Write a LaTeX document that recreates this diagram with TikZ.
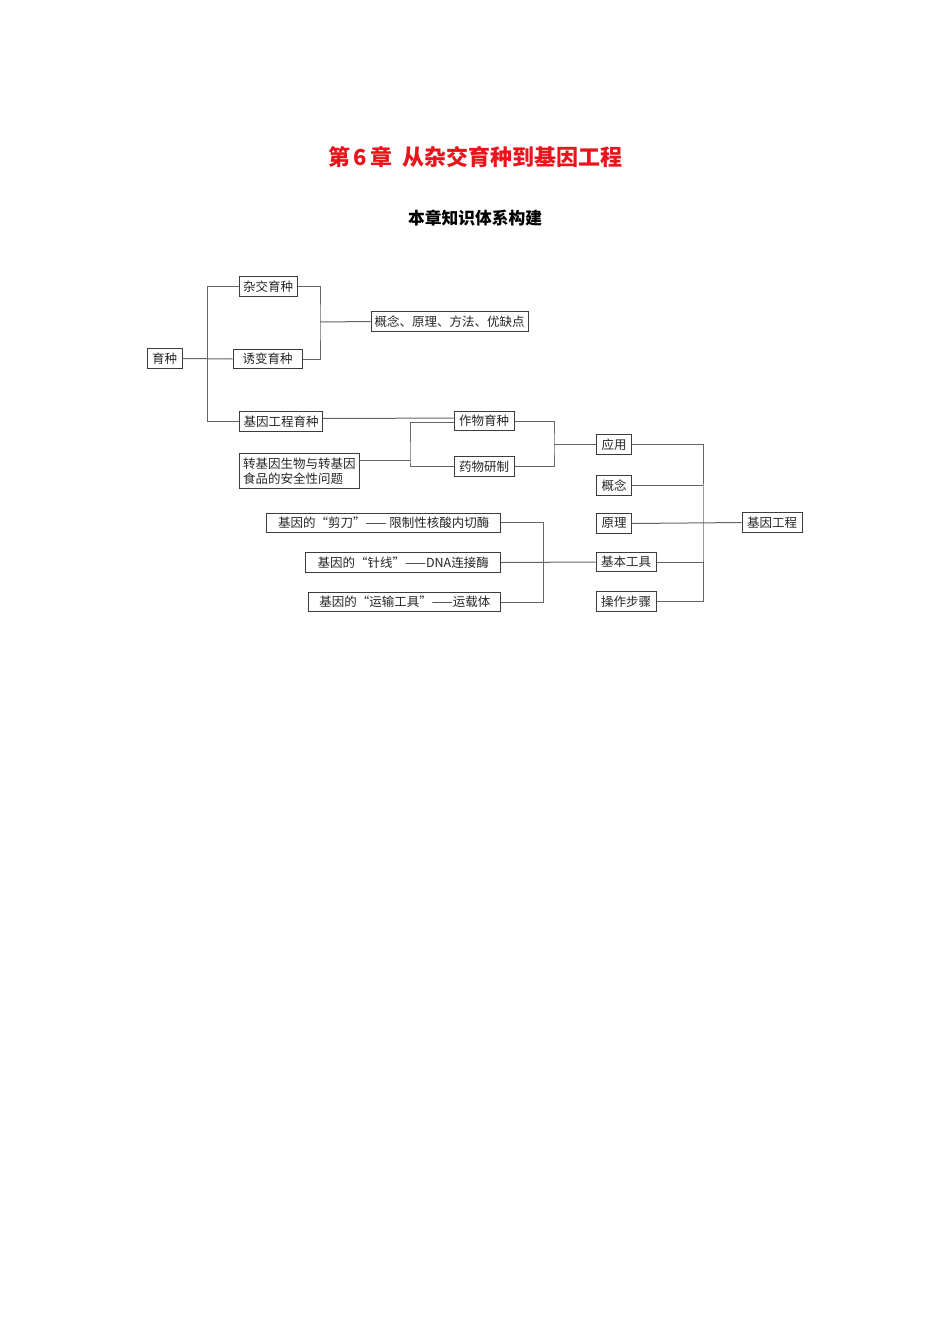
\documentclass[tikz,border=0pt]{standalone}
\usepackage{fontspec}
\setmainfont{Noto Sans CJK SC}
\definecolor{titlered}{RGB}{232,22,28}
\definecolor{boxline}{RGB}{60,60,60}
\definecolor{conline}{RGB}{100,100,100}
\tikzset{
  box/.style={draw=boxline, line width=1pt, inner sep=0pt, minimum height=19.5pt,
    font=\fontsize{12.5}{15.5}\selectfont, text=black!85},
  con/.style={draw=conline, line width=1pt},
}
\begin{document}
\begin{tikzpicture}[x=1pt,y=-1pt]
\path[use as bounding box, fill=white] (0,0) rectangle (950,1344);
% titles
\node[font=\fontsize{22}{26}\selectfont\bfseries, text=titlered] (title) at (475.5,157) {第\,6\,章\ \ 从杂交育种到基因工程};
\node[font=\fontsize{16.75}{20}\selectfont\bfseries] (sub) at (475,218) {本章知识体系构建};
% boxes
\node[box, minimum width=35pt] (yz) at (164.5,358.5) {育种};
\node[box, minimum width=58pt] (zj) at (268,286.5) {杂交育种};
\node[box, minimum width=69pt] (yb) at (267.5,359) {诱变育种};
\node[box, minimum width=157pt] (gn) at (449.5,321.5) {概念、原理、方法、优缺点};
\node[box, minimum width=83pt] (jy) at (281,421.3) {基因工程育种};
\node[box, minimum width=60pt] (zw) at (484,421.2) {作物育种};
\node[box, minimum width=120pt, minimum height=34.5pt, align=left] (zjy) at (299.3,471.2) {转基因生物与转基因\\食品的安全性问题};
\node[box, minimum width=60pt] (yw) at (484,466.3) {药物研制};
\node[box, minimum width=35pt] (yy) at (614,444.5) {应用};
\node[box, minimum width=35pt] (gn2) at (614,485.5) {概念};
\node[box, minimum width=35pt] (yl) at (614,523.5) {原理};
\node[box, minimum width=60pt] (jbgj) at (626,562) {基本工具};
\node[box, minimum width=60pt] (czbz) at (626,601.5) {操作步骤};
\node[box, minimum width=60pt] (jygc) at (772,522.5) {基因工程};
\node[box, minimum width=234pt] (jd) at (383.7,522.8) {基因的“剪刀”—— 限制性核酸内切酶};
\node[box, minimum width=195pt] (zx) at (403.2,562.5) {基因的“针线”——DNA连接酶};
\node[box, minimum width=192pt] (ys) at (404.9,602) {基因的“运输工具”——运载体};
% junction coordinates
\coordinate (b1) at (320,322);
\coordinate (b2) at (410,460.7);
\coordinate (b3) at (554,444.5);
\coordinate (b4) at (703,522.5);
\coordinate (b5) at (543.5,562.3);
% connectors
\draw[con] (yz.east) -- (yb.west);
\draw[con] (zj.west) -- ++(-31,0) |- (jy.west);
\draw[con] (zj.east) -| (b1) |- (yb.east);
\draw[con] (b1) -- (gn.west);
\draw[con] ([yshift=3pt]jy.east) -- ([yshift=3pt]zw.west);
\draw[con] ([yshift=-1.5pt]zw.west) -| (b2) |- (yw.west);
\draw[con] (b2) -- (zjy.east |- b2);
\draw[con] (zw.east) -| (b3) |- (yw.east);
\draw[con] (b3) -- (yy.west);
\draw[con] (yy.east) -| (b4) |- (czbz.east);
\draw[con] (gn2.east) -- (gn2.east -| b4);
\draw[con] (jbgj.east) -- (jbgj.east -| b4);
\draw[con] (yl.east) -- (jygc.west);
\draw[con] (jd.east) -| (b5) |- (ys.east);
\draw[con] (zx.east) -- (jbgj.west);
\end{tikzpicture}
\end{document}
